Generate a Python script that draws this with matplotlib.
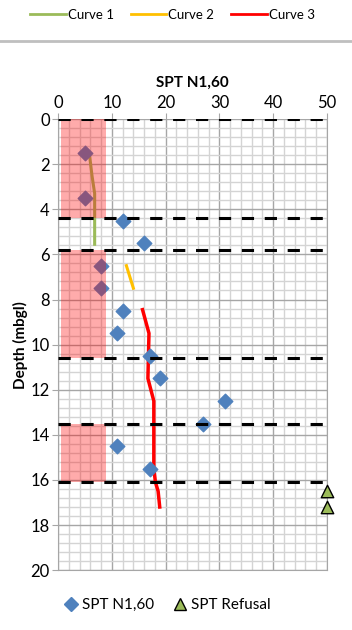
import matplotlib.pyplot as plt
from matplotlib.lines import Line2D
from matplotlib.ticker import MultipleLocator
import numpy as np

plt.rcParams['font.family'] = ['Lato', 'DejaVu Sans']

# SPT N1,60 test results
spt_depth = [1.5, 3.5, 4.5, 5.5, 6.5, 7.5, 8.5, 9.5, 10.5, 11.5, 12.5, 13.5, 14.5, 15.5]
spt_n = [5, 5, 12, 16, 8, 8, 12, 11, 17, 19, 31, 27, 11, 17]

# SPT refusal (plotted at 50)
ref_depth = [16.5, 17.2]
ref_n = [50, 50]

# Interpreted curves
c1_n = [5.8, 6.3, 6.8, 6.8, 6.8]
c1_depth = [1.5, 2.5, 3.3, 4.5, 5.55]
c2_n = [12.7, 14.0]
c2_depth = [6.5, 7.5]
c3_n = [15.7, 16.9, 16.8, 16.7, 17.8, 17.8, 17.8, 17.8, 18.1, 18.6, 18.9]
c3_depth = [8.45, 9.5, 10.5, 11.5, 12.5, 13.5, 14.5, 15.5, 16.1, 16.5, 17.2]

# Layer boundaries and low-N zones
boundaries = [0, 4.4, 5.8, 10.6, 13.5, 16.1]
zones = [(0, 4.4), (5.8, 10.6), (13.5, 16.1)]
zone_x = (0.5, 9)

BLUE = "#4F81BD"
GREEN = "#9BBB59"
YELLOW = "#FFC000"
RED = "#FF0000"

fig = plt.figure(figsize=(3.52, 6.3), dpi=100)
ax = fig.add_axes([0.165, 0.095, 0.764, 0.716])

ax.set_xlim(0, 50)
ax.set_ylim(20, 0)
ax.xaxis.set_major_locator(MultipleLocator(10))
ax.xaxis.set_minor_locator(MultipleLocator(2))
ax.yaxis.set_major_locator(MultipleLocator(2))
ax.yaxis.set_minor_locator(MultipleLocator(0.4))
ax.grid(which="minor", color="#d4d4d4", linewidth=1, zorder=0)
ax.grid(which="major", color="#a6a6a6", linewidth=1, zorder=0)
ax.set_axisbelow(True)
ax.xaxis.tick_top()
ax.xaxis.set_label_position("top")
ax.tick_params(which="minor", length=0)
ax.tick_params(which="major", length=4, color="#a6a6a6", labelsize=12, pad=2)
for s in ax.spines.values():
    s.set_color("#a6a6a6")
ax.spines["top"].set_visible(False)

ax.set_xlabel("SPT N1,60", fontsize=11, fontweight="bold", labelpad=6)
ax.set_ylabel("Depth (mbgl)", fontsize=11, fontweight="bold", labelpad=2)

for b in boundaries:
    ax.axhline(b, color="black", linewidth=2.2, dashes=(4, 3.5), zorder=4)

ax.plot(c1_n, c1_depth, color=GREEN, linewidth=2.2, zorder=3)
ax.plot(c2_n, c2_depth, color=YELLOW, linewidth=2.2, zorder=3)
ax.plot(c3_n, c3_depth, color=RED, linewidth=2.5, zorder=3)

ax.scatter(spt_n, spt_depth, marker="D", s=55, color=BLUE, zorder=3, clip_on=False)
ax.scatter(ref_n, ref_depth, marker="^", s=80, color=GREEN, edgecolor="black",
           linewidth=1, zorder=5, clip_on=False)

for top, bot in zones:
    ax.fill_between(zone_x, top, bot, color=RED, alpha=0.33, linewidth=0, zorder=3.5)

# top legend for curves
h_top = [Line2D([], [], color=c, linewidth=2) for c in (GREEN, YELLOW, RED)]
fig.legend(h_top, ["Curve 1", "Curve 2", "Curve 3"], loc="center",
           bbox_to_anchor=(0.49, 1 - 15 / 630), ncol=3, frameon=False, fontsize=9.5,
           handlelength=2.7, handletextpad=0.15, columnspacing=1.3)
fig.add_artist(Line2D([0, 1], [1 - 41 / 630, 1 - 41 / 630], color="#bfbfbf",
                      linewidth=2, transform=fig.transFigure))

# bottom legend for markers
h_bot = [Line2D([], [], marker="D", linestyle="none", color=BLUE, markersize=7),
         Line2D([], [], marker="^", linestyle="none", color=GREEN,
                markeredgecolor="black", markersize=8)]
fig.legend(h_bot, ["SPT N1,60", "SPT Refusal"], loc="center",
           bbox_to_anchor=(0.475, 1 - 605 / 630), ncol=2, frameon=False, fontsize=11,
           handlelength=1, handletextpad=0.2, columnspacing=1.2)

fig.savefig("out.png", dpi=100)
